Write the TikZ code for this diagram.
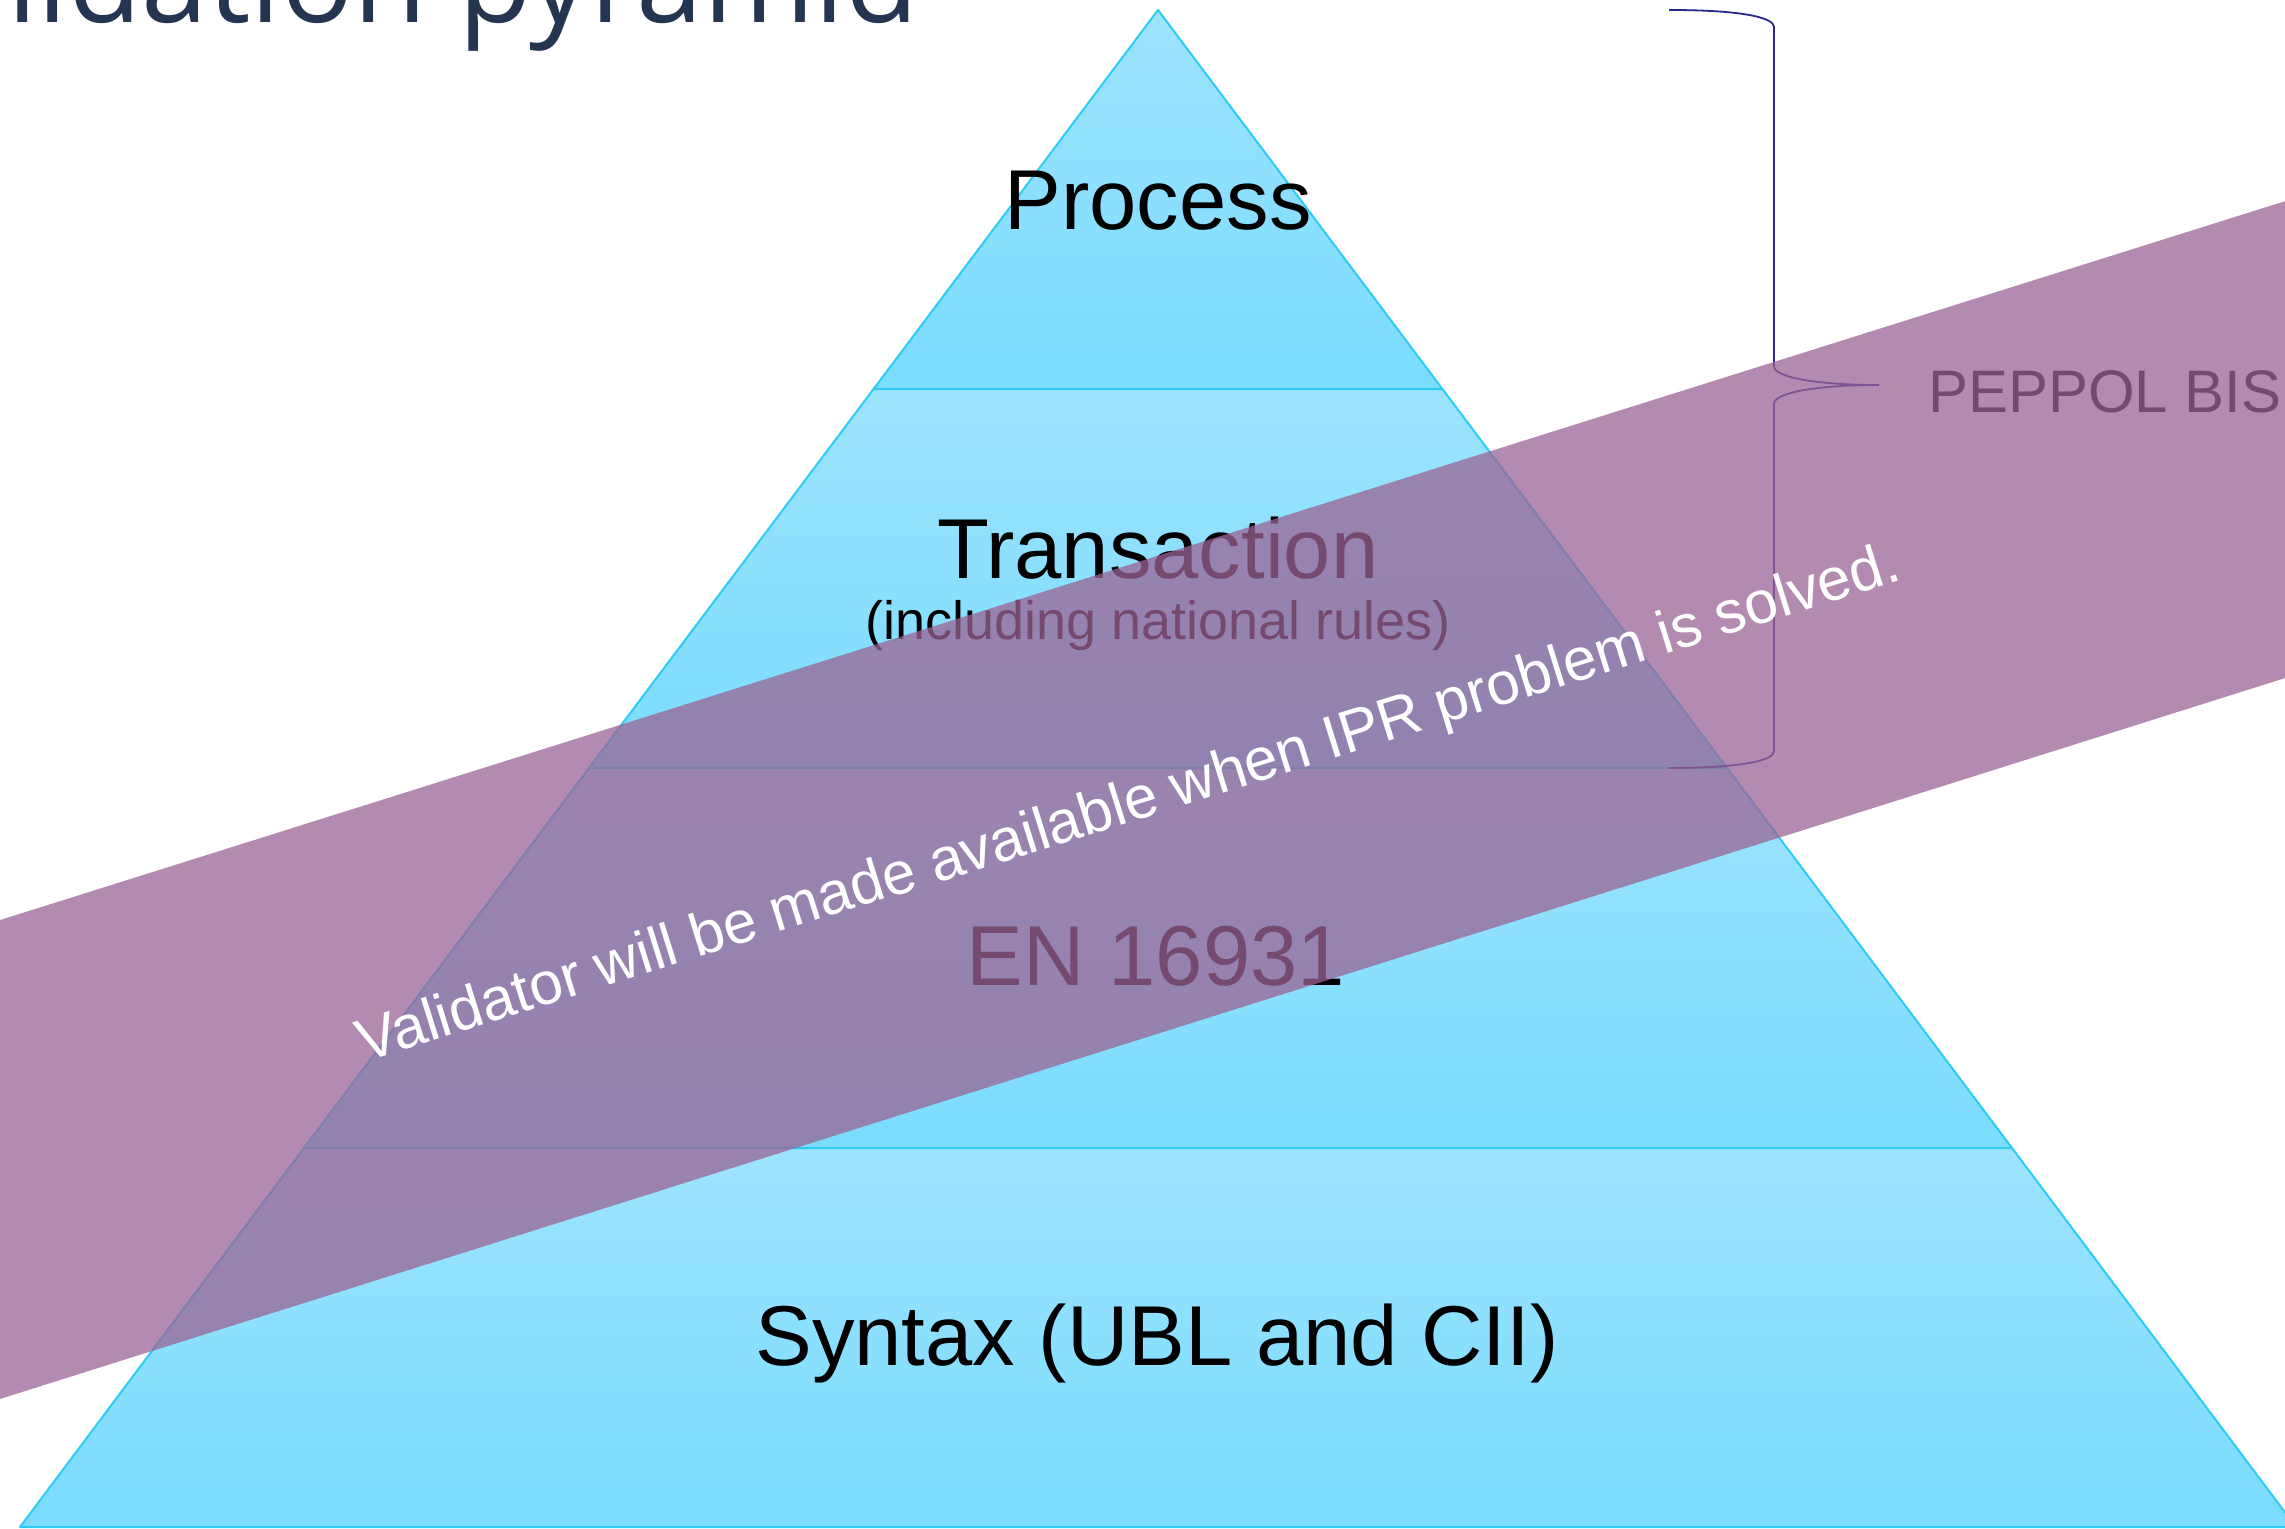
\documentclass[tikz,border=0pt]{standalone}
\usepackage{fontspec}
\setmainfont{Liberation Sans}
\newfontfamily\titlefont{Open Sans}
\definecolor{layertop}{RGB}{157,227,254}
\definecolor{layerbot}{RGB}{122,220,254}
\definecolor{layeredge}{RGB}{45,204,245}
\definecolor{bandcol}{RGB}{155,100,149}
\definecolor{bracecol}{RGB}{40,40,140}
\definecolor{titlecol}{RGB}{36,53,81}
\begin{document}
\begin{tikzpicture}[x=1pt,y=-1pt,
  layer/.style={draw=layeredge,line width=2pt,top color=layertop,bottom color=layerbot,line join=round},
  lbl/.style={inner sep=0pt,anchor=base,text=black,font=\fontsize{85}{100}\selectfont},
  sublbl/.style={inner sep=0pt,anchor=base,text=black,font=\fontsize{54}{64}\selectfont},
  sidelbl/.style={inner sep=0pt,anchor=base west,text=black,font=\fontsize{60}{72}\selectfont},
  bandtxt/.style={inner sep=0pt,anchor=base,text=white,font=\fontsize{60}{72}\selectfont},
  titletxt/.style={inner sep=0pt,anchor=base east,text=titlecol,font=\titlefont\fontsize{120}{140}\selectfont},
  bracestyle/.style={draw=bracecol,line width=1.8pt},
  band/.style={fill=bandcol,fill opacity=0.75}]
\useasboundingbox (0,0) rectangle (2285,1528);
\clip (0,0) rectangle (2285,1528);
% pyramid layers
\path[layer] (1158,10) -- (1442.4,389) -- (873.6,389) -- cycle;
\path[layer] (873.6,389) -- (1442.4,389) -- (1727,768) -- (589,768) -- cycle;
\path[layer] (589,768) -- (1727,768) -- (2012,1148) -- (304,1148) -- cycle;
\path[layer] (304,1148) -- (2012,1148) -- (2296,1527) -- (20,1527) -- cycle;
% labels
\node[lbl] (process) at (1158,229) {Process};
\node[lbl] (transaction) at (1158,578) {Transaction};
\node[sublbl] (national) at (1158,639) {(including national rules)};
\node[lbl] (en) at (1156,985) {EN 16931};
\node[lbl] (syntax) at (1157,1365) {Syntax (UBL and CII)};
% title
\node[titletxt] (title) at (919,23) {Validation pyramid};
% brace
\coordinate (btop) at (1669,10);
\coordinate (btip) at (1879,385);
\coordinate (bbot) at (1669,768);
\draw[bracestyle] (btop) .. controls (1745,10) and (1774,18) .. (1774,27)
  -- (1774,366) .. controls (1774,378) and (1820,385) .. (btip)
  .. controls (1820,385) and (1774,392) .. (1774,404)
  -- (1774,751) .. controls (1774,760) and (1745,768) .. (bbot);
\node[sidelbl] (peppol) at (1928,412) {PEPPOL BIS};
% band
\path[band] (-100,951.5) -- (2400,165) -- (2400,641.8) -- (-100,1430.5) -- cycle;
\node[bandtxt,rotate=17.4] (note) at (1134,821) {Validator will be made available when IPR problem is solved.};
\end{tikzpicture}
\end{document}
